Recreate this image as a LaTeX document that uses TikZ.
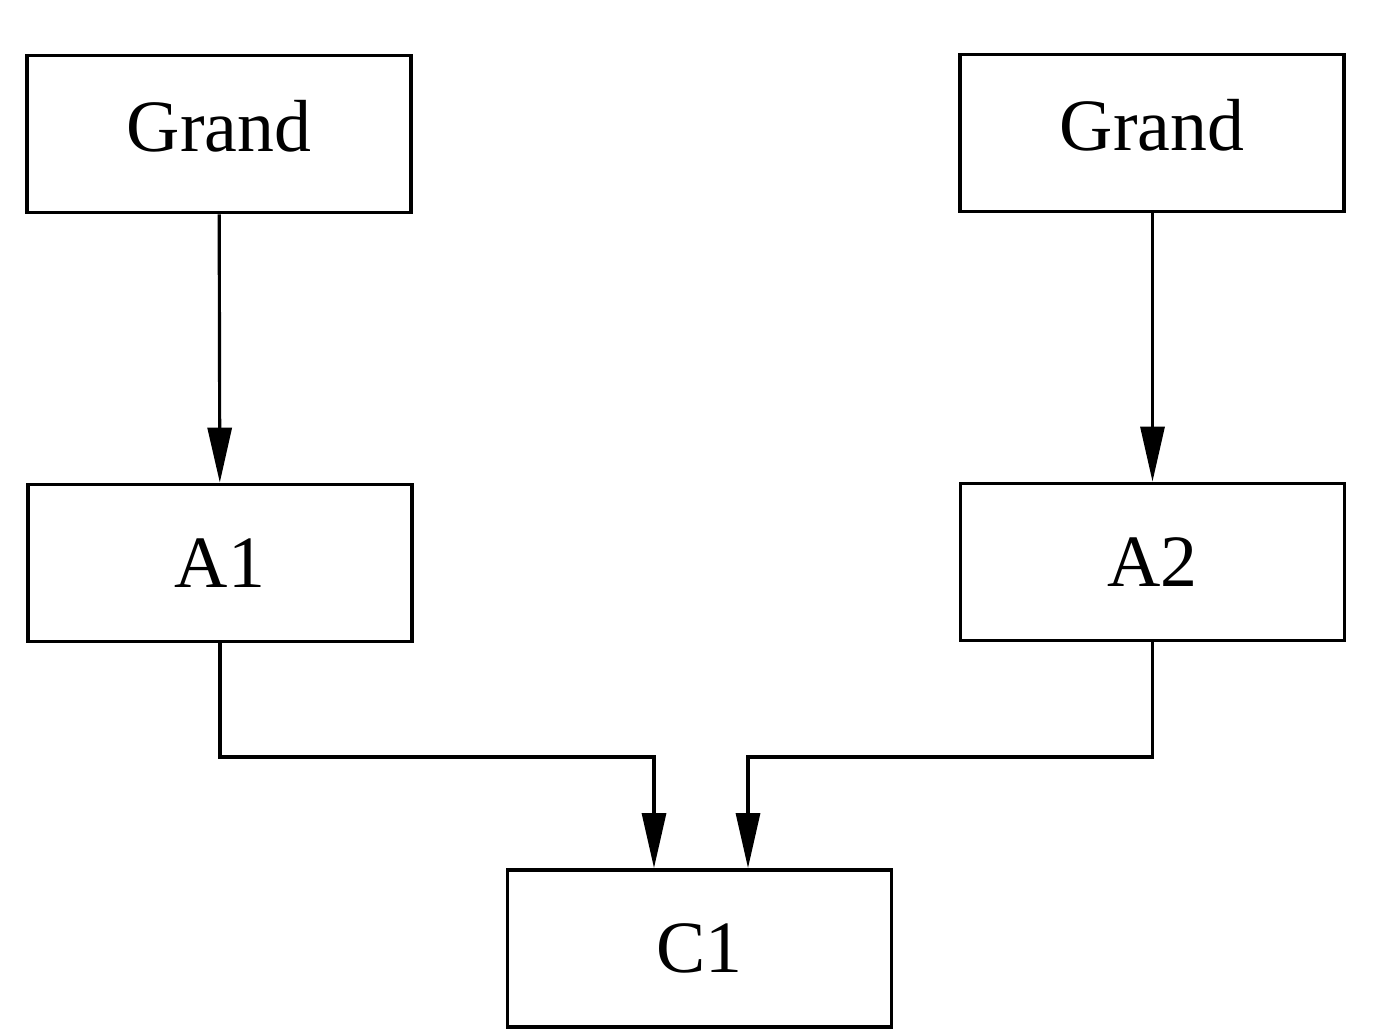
\documentclass[tikz,border=0pt]{standalone}
\usepackage{fontspec}
\setmainfont{Liberation Serif}
\usetikzlibrary{arrows.meta, positioning}

\begin{document}
\begin{tikzpicture}[
    blk/.style={draw, line width=1.1pt, minimum width=3.84cm, minimum height=1.57cm, inner sep=0pt, font=\fontsize{21}{25}\selectfont},
    link/.style={-{Triangle[length=5.5mm, width=2.4mm]}, line width=0.9pt}
]
\useasboundingbox (0,0) rectangle (13.77,10.32);
\node[blk, text depth=0.16cm] (grandl) at (2.19,8.98) {Grand};
\node[blk, text depth=0.16cm] (grandr) at (11.52,8.99) {Grand};
\node[blk] (aone) at (2.20,4.69) {A1};
\node[blk] (atwo) at (11.525,4.70) {A2};
\node[blk] (cone) at (6.995,0.835) {C1};

\draw[link] (grandl) -- (aone);
\draw[link] (grandr.south -| atwo) -- (atwo);
\draw[link] (aone.south) |- (6.54,2.75) -- (6.54,0 |- cone.north);
\draw[link] (atwo.south) |- (7.48,2.75) -- (7.48,0 |- cone.north);
\end{tikzpicture}
\end{document}
